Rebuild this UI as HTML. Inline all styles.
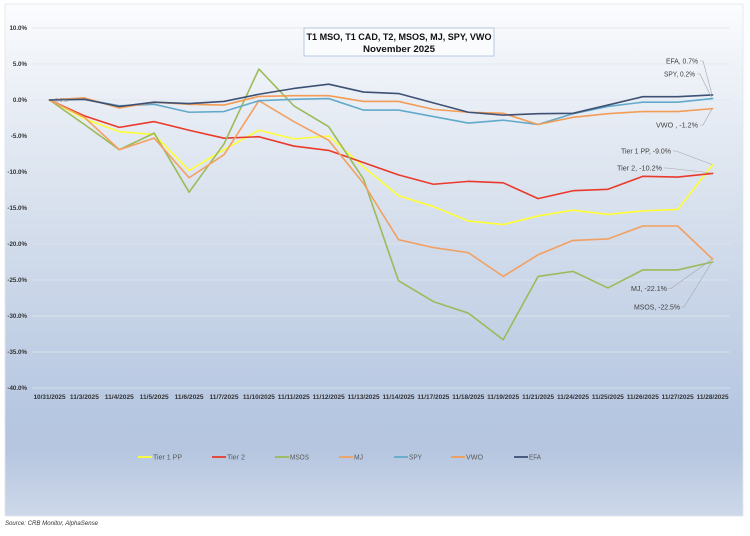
<!DOCTYPE html>
<html>
<head>
<meta charset="utf-8">
<style>
html,body{margin:0;padding:0;background:#fff;}
svg{display:block;}
text{font-family:"Liberation Sans",sans-serif;}
</style>
</head>
<body>
<svg width="750" height="536" viewBox="0 0 750 536" xmlns="http://www.w3.org/2000/svg">
<defs>
<linearGradient id="bg" x1="0" y1="0" x2="0" y2="1">
<stop offset="0" stop-color="#fbfcfe"/>
<stop offset="0.1" stop-color="#f1f4f9"/>
<stop offset="0.4" stop-color="#d7e0ed"/>
<stop offset="0.8" stop-color="#b6c7e1"/>
<stop offset="0.87" stop-color="#b6c6e0"/>
<stop offset="1" stop-color="#cdd8e9"/>
</linearGradient>
</defs>
<rect x="0" y="0" width="750" height="536" fill="#fff"/>
<rect x="5" y="4" width="738" height="512" fill="url(#bg)" stroke="#e2e5ea" stroke-width="0.8"/>

<!-- gridlines -->
<g stroke="#dfe5ee" stroke-width="0.8">
<line x1="32" y1="28" x2="730" y2="28"/>
<line x1="32" y1="64" x2="730" y2="64"/>
<line x1="32" y1="100" x2="730" y2="100"/>
<line x1="32" y1="136" x2="730" y2="136"/>
<line x1="32" y1="172" x2="730" y2="172"/>
<line x1="32" y1="208" x2="730" y2="208"/>
<line x1="32" y1="244" x2="730" y2="244"/>
<line x1="32" y1="280" x2="730" y2="280"/>
<line x1="32" y1="316" x2="730" y2="316"/>
<line x1="32" y1="352" x2="730" y2="352"/>
<line x1="32" y1="388" x2="730" y2="388"/>
</g>

<!-- y labels -->
<g font-size="6.2" font-weight="bold" fill="#333" text-anchor="end">
<text x="27" y="30">10.0%</text>
<text x="27" y="66">5.0%</text>
<text x="27" y="102">0.0%</text>
<text x="27" y="138">-5.0%</text>
<text x="27" y="174">-10.0%</text>
<text x="27" y="210">-15.0%</text>
<text x="27" y="246">-20.0%</text>
<text x="27" y="282">-25.0%</text>
<text x="27" y="318">-30.0%</text>
<text x="27" y="354">-35.0%</text>
<text x="27" y="390">-40.0%</text>
</g>

<!-- x labels -->
<g font-size="6" font-weight="bold" fill="#333" text-anchor="middle">
<text x="49.5" y="399" textLength="32" lengthAdjust="spacingAndGlyphs">10/31/2025</text>
<text x="84.4" y="399" textLength="29" lengthAdjust="spacingAndGlyphs">11/3/2025</text>
<text x="119.3" y="399" textLength="29" lengthAdjust="spacingAndGlyphs">11/4/2025</text>
<text x="154.2" y="399" textLength="29" lengthAdjust="spacingAndGlyphs">11/5/2025</text>
<text x="189.1" y="399" textLength="29" lengthAdjust="spacingAndGlyphs">11/6/2025</text>
<text x="224" y="399" textLength="29" lengthAdjust="spacingAndGlyphs">11/7/2025</text>
<text x="258.9" y="399" textLength="32" lengthAdjust="spacingAndGlyphs">11/10/2025</text>
<text x="293.8" y="399" textLength="32" lengthAdjust="spacingAndGlyphs">11/11/2025</text>
<text x="328.7" y="399" textLength="32" lengthAdjust="spacingAndGlyphs">11/12/2025</text>
<text x="363.6" y="399" textLength="32" lengthAdjust="spacingAndGlyphs">11/13/2025</text>
<text x="398.5" y="399" textLength="32" lengthAdjust="spacingAndGlyphs">11/14/2025</text>
<text x="433.4" y="399" textLength="32" lengthAdjust="spacingAndGlyphs">11/17/2025</text>
<text x="468.3" y="399" textLength="32" lengthAdjust="spacingAndGlyphs">11/18/2025</text>
<text x="503.2" y="399" textLength="32" lengthAdjust="spacingAndGlyphs">11/19/2025</text>
<text x="538.1" y="399" textLength="32" lengthAdjust="spacingAndGlyphs">11/21/2025</text>
<text x="573" y="399" textLength="32" lengthAdjust="spacingAndGlyphs">11/24/2025</text>
<text x="607.9" y="399" textLength="32" lengthAdjust="spacingAndGlyphs">11/25/2025</text>
<text x="642.8" y="399" textLength="32" lengthAdjust="spacingAndGlyphs">11/26/2025</text>
<text x="677.7" y="399" textLength="32" lengthAdjust="spacingAndGlyphs">11/27/2025</text>
<text x="712.6" y="399" textLength="32" lengthAdjust="spacingAndGlyphs">11/28/2025</text>
</g>

<!-- series -->
<g transform="translate(49.5,100) scale(34.9,-7.2)" fill="none" stroke-width="1.6" stroke-linejoin="round" stroke-linecap="round">
<polyline vector-effect="non-scaling-stroke" stroke="#ffff33" points="0,0 1,-2.6 2,-4.4 3,-4.8 4,-9.8 5,-6.9 6,-4.2 7,-5.4 8,-5.0 9,-9.3 10,-13.3 11,-14.8 12,-16.8 13,-17.3 14,-16.1 15,-15.3 16,-15.9 17,-15.4 18,-15.2 19,-9.0"/>
<polyline vector-effect="non-scaling-stroke" stroke="#ea3a2b" points="0,0 1,-2.2 2,-3.8 3,-3.0 4,-4.2 5,-5.3 6,-5.1 7,-6.4 8,-7.0 9,-8.7 10,-10.4 11,-11.7 12,-11.3 13,-11.5 14,-13.7 15,-12.6 16,-12.4 17,-10.6 18,-10.7 19,-10.2"/>
<polyline vector-effect="non-scaling-stroke" stroke="#9bbb59" points="0,0 1,-3.4 2,-6.9 3,-4.6 4,-12.8 5,-6.1 6,4.3 7,-0.8 8,-3.7 9,-11.0 10,-25.1 11,-28.0 12,-29.6 13,-33.3 14,-24.5 15,-23.8 16,-26.1 17,-23.6 18,-23.6 19,-22.5"/>
<polyline vector-effect="non-scaling-stroke" stroke="#f2a062" points="0,0 1,-2.4 2,-6.9 3,-5.3 4,-10.8 5,-7.6 6,-0.1 7,-3.0 8,-5.6 9,-11.6 10,-19.4 11,-20.5 12,-21.2 13,-24.5 14,-21.5 15,-19.5 16,-19.3 17,-17.5 18,-17.5 19,-22.1"/>
<polyline vector-effect="non-scaling-stroke" stroke="#62aacb" points="0,0 1,0.1 2,-0.8 3,-0.6 4,-1.7 5,-1.6 6,-0.1 7,0.1 8,0.2 9,-1.4 10,-1.4 11,-2.3 12,-3.2 13,-2.8 14,-3.4 15,-1.9 16,-0.9 17,-0.3 18,-0.3 19,0.2"/>
<polyline vector-effect="non-scaling-stroke" stroke="#f39c55" points="0,0 1,0.3 2,-1.1 3,-0.3 4,-0.6 5,-0.7 6,0.5 7,0.6 8,0.6 9,-0.2 10,-0.2 11,-1.3 12,-1.7 13,-1.85 14,-3.4 15,-2.4 16,-1.9 17,-1.6 18,-1.6 19,-1.2"/>
<polyline vector-effect="non-scaling-stroke" stroke="#3e5074" points="0,0 1,0.1 2,-0.9 3,-0.3 4,-0.5 5,-0.2 6,0.8 7,1.6 8,2.2 9,1.1 10,0.9 11,-0.4 12,-1.7 13,-2.1 14,-1.9 15,-1.85 16,-0.7 17,0.46 18,0.46 19,0.7"/>
</g>

<text x="55" y="102" font-size="5.5" fill="#7f7f7f">0.0%</text>

<!-- leader lines -->
<g stroke="#a6a6a6" stroke-width="0.6" fill="none">
<polyline points="700,61 703,61 712,94.5"/>
<polyline points="697,74 700,74 712,98.5"/>
<polyline points="700,125 703,125 712,108.8"/>
<polyline points="673,151 676,151 712,164.5"/>
<polyline points="664,168 667,168 712,173"/>
<polyline points="668,288.5 671,288.5 712,259.3"/>
<polyline points="681,307 684,307 712,262"/>
</g>

<!-- data labels -->
<g font-size="7" fill="#404040" text-anchor="end">
<text x="698" y="63.5" textLength="32" lengthAdjust="spacingAndGlyphs">EFA, 0.7%</text>
<text x="695" y="76.5" textLength="31" lengthAdjust="spacingAndGlyphs">SPY, 0.2%</text>
<text x="698" y="127.5" textLength="42" lengthAdjust="spacingAndGlyphs">VWO , -1.2%</text>
<text x="671" y="153.5" textLength="50" lengthAdjust="spacingAndGlyphs">Tier 1 PP, -9.0%</text>
<text x="662" y="170.5" textLength="45" lengthAdjust="spacingAndGlyphs">Tier 2, -10.2%</text>
<text x="667" y="291" textLength="36" lengthAdjust="spacingAndGlyphs">MJ, -22.1%</text>
<text x="680" y="309.5" textLength="46" lengthAdjust="spacingAndGlyphs">MSOS, -22.5%</text>
</g>

<!-- title box -->
<rect x="304" y="28" width="190" height="28" fill="#fafbfd" fill-opacity="0.85" stroke="#a9bcd9" stroke-width="0.8"/>
<text x="399" y="40" font-size="9.5" font-weight="bold" fill="#111" text-anchor="middle" textLength="185" lengthAdjust="spacingAndGlyphs">T1 MSO, T1 CAD, T2, MSOS, MJ, SPY, VWO</text>
<text x="399" y="52" font-size="9.5" font-weight="bold" fill="#111" text-anchor="middle" textLength="72" lengthAdjust="spacingAndGlyphs">November  2025</text>

<!-- legend -->
<g stroke-width="1.8">
<line x1="138" y1="457" x2="152" y2="457" stroke="#ffff33"/>
<line x1="212" y1="457" x2="226" y2="457" stroke="#ea3a2b"/>
<line x1="275" y1="457" x2="289" y2="457" stroke="#9bbb59"/>
<line x1="339" y1="457" x2="353" y2="457" stroke="#f2a062"/>
<line x1="394" y1="457" x2="408" y2="457" stroke="#62aacb"/>
<line x1="451" y1="457" x2="465" y2="457" stroke="#f39c55"/>
<line x1="514" y1="457" x2="528" y2="457" stroke="#3e5074"/>
</g>
<g font-size="7.5" fill="#595959">
<text x="153" y="459.7" textLength="29" lengthAdjust="spacingAndGlyphs">Tier 1 PP</text>
<text x="227" y="459.7" textLength="18" lengthAdjust="spacingAndGlyphs">Tier 2</text>
<text x="290" y="459.7" textLength="19" lengthAdjust="spacingAndGlyphs">MSOS</text>
<text x="354" y="459.7" textLength="9" lengthAdjust="spacingAndGlyphs">MJ</text>
<text x="409" y="459.7" textLength="13" lengthAdjust="spacingAndGlyphs">SPY</text>
<text x="466" y="459.7" textLength="17" lengthAdjust="spacingAndGlyphs">VWO</text>
<text x="529" y="459.7" textLength="12" lengthAdjust="spacingAndGlyphs">EFA</text>
</g>

<text x="5" y="525" font-size="6.5" font-style="italic" fill="#333" textLength="93" lengthAdjust="spacingAndGlyphs">Source: CRB Monitor, AlphaSense</text>
</svg>
</body>
</html>
